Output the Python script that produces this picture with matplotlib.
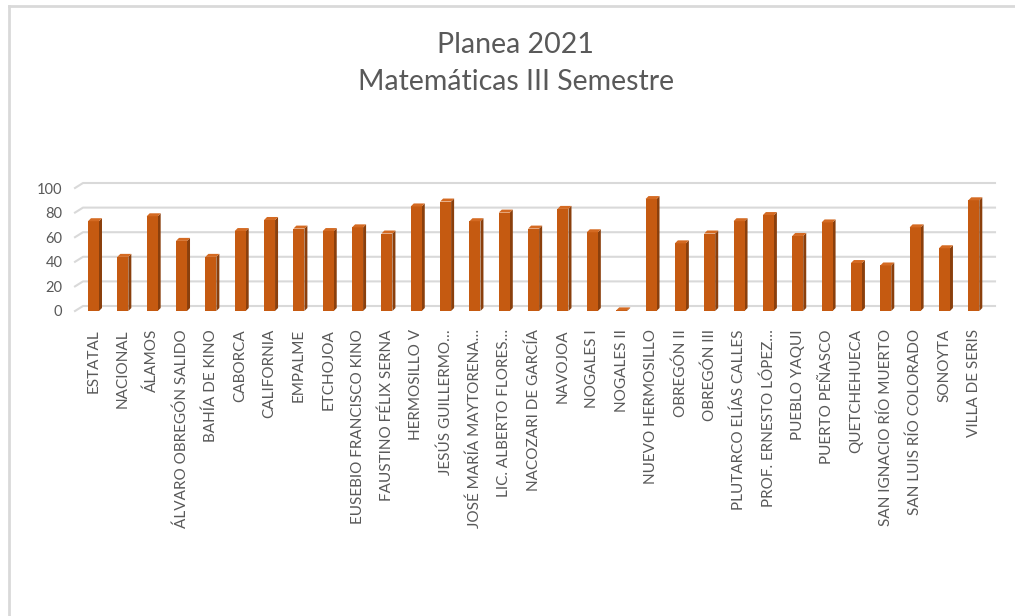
import matplotlib.pyplot as plt
from matplotlib.patches import Polygon
from matplotlib.lines import Line2D

plt.rcParams['font.family'] = ['Lato', 'DejaVu Sans']

# Planea 2021, Matemáticas III Semestre
categories = ['ESTATAL', 'NACIONAL', 'ÁLAMOS', 'ÁLVARO OBREGÓN SALIDO', 'BAHÍA DE KINO',
              'CABORCA', 'CALIFORNIA', 'EMPALME', 'ETCHOJOA', 'EUSEBIO FRANCISCO KINO',
              'FAUSTINO FÉLIX SERNA', 'HERMOSILLO V', 'JESÚS GUILLERMO…', 'JOSÉ MARÍA MAYTORENA…',
              'LIC. ALBERTO FLORES…', 'NACOZARI DE GARCÍA', 'NAVOJOA', 'NOGALES I', 'NOGALES II',
              'NUEVO HERMOSILLO', 'OBREGÓN II', 'OBREGÓN III', 'PLUTARCO ELÍAS CALLES',
              'PROF. ERNESTO LÓPEZ…', 'PUEBLO YAQUI', 'PUERTO PEÑASCO', 'QUETCHEHUECA',
              'SAN IGNACIO RÍO MUERTO', 'SAN LUIS RÍO COLORADO', 'SONOYTA', 'VILLA DE SERIS']
values = [73, 44, 77, 57, 44, 65, 74, 67, 65, 68, 63, 85, 89, 73, 80, 67, 83, 64, 0.5,
          91, 55, 63, 73, 78, 61, 72, 39, 37, 68, 51, 90]
yticks = [0, 20, 40, 60, 80, 100]

front = '#C55A11'
side = '#8A3F0C'
top = '#D46A22'
grid = '#D9D9D9'
txt = '#595959'

W, H = 1015, 616
fig = plt.figure(figsize=(W / 100, H / 100), dpi=100)
ax_l, ax_r, ax_b, ax_h = 75, 987, 305, 123
ax = fig.add_axes([ax_l / W, ax_b / H, (ax_r - ax_l) / W, ax_h / H])
xmin, xmax = -0.63, 30.45
ax.set_xlim(xmin, xmax)
ax.set_ylim(0, 100)
ux = (ax_r - ax_l) / (xmax - xmin)   # px per category
uy = ax_h / 100.0                    # px per unit

# back wall gridlines with a short depth stub
gdx, gdy = 8 / ux, 5 / uy
for v in yticks:
    ax.add_line(Line2D([xmin, xmin + gdx, xmax + gdx], [v, v + gdy, v + gdy],
                       color=grid, lw=1.5, clip_on=False, zorder=0))

x = list(range(len(categories)))
w = 11 / ux
dx, dy = 3 / ux, 3 / uy
ax.bar(x, values, width=w, color=front, zorder=3)
for xi, v in zip(x, values):
    r = xi + w / 2
    l = xi - w / 2
    ax.add_patch(Polygon([(r, 0), (r + dx, dy), (r + dx, v + dy), (r, v)],
                         closed=True, color=side, lw=0, zorder=2, clip_on=False))
    ax.add_patch(Polygon([(l, v), (r, v), (r + dx, v + dy), (l + dx, v + dy)],
                         closed=True, color=top, lw=0, zorder=4, clip_on=False))

ax.set_yticks(yticks)
ax.set_yticklabels([str(t) for t in yticks], fontsize=10.5, color=txt)
ax.set_xticks(x)
ax.set_xticklabels(categories, rotation=90, fontsize=11, color=txt)
ax.tick_params(axis='both', length=0)
ax.tick_params(axis='y', pad=9)
ax.tick_params(axis='x', pad=13)
for s in ax.spines.values():
    s.set_visible(False)

fig.text(0.508, 1 - 45 / H, 'Planea 2021', ha='center', va='center', fontsize=20.5, color=txt)
fig.text(0.508, 1 - 82 / H, 'Matemáticas III Semestre', ha='center', va='center',
         fontsize=20.5, color=txt)

# chart border
fig.add_artist(Line2D([8.5 / W, 8.5 / W], [0, 1 - 6 / H], color=grid, lw=2))
fig.add_artist(Line2D([8.5 / W, 1], [1 - 6 / H, 1 - 6 / H], color=grid, lw=2))

fig.savefig('out.png', dpi=100)
